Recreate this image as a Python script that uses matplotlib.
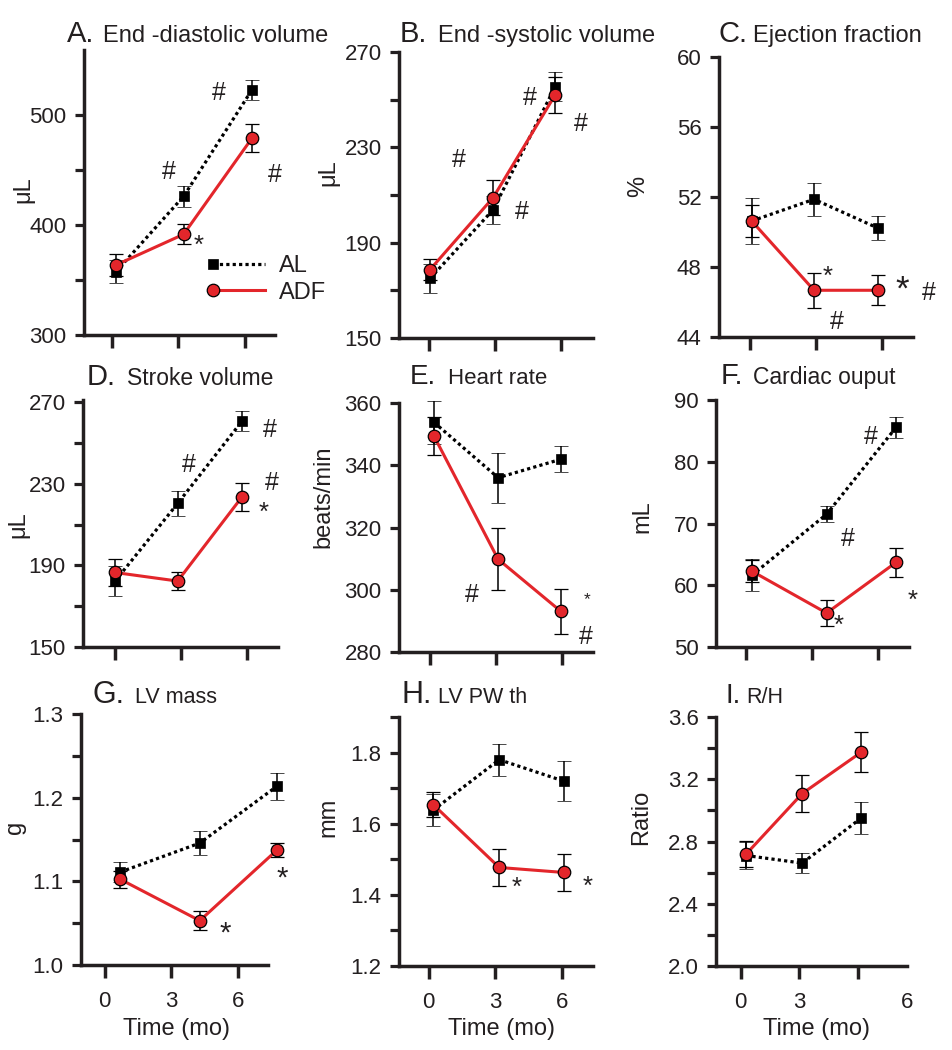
import matplotlib
matplotlib.use('Agg')
import matplotlib.pyplot as plt
from matplotlib.lines import Line2D
from matplotlib.legend_handler import HandlerLine2D

plt.rcParams['font.family'] = ['Liberation Sans', 'DejaVu Sans']
TXT = '#231f20'
RED = '#e3262b'

W, H = 952, 1050

# ---------------- data (time in months, mean, SE) ----------------
t_A = [0.2, 3.25, 6.33]
al_A = [357.5, 426.0, 522.7]
al_A_se = [10.5, 9.5, 9.0]
adf_A = [363.6, 391.5, 478.8]
adf_A_se = [10.0, 9.0, 12.7]

t_B = [0.03, 2.9, 5.72]
al_B = [175.0, 203.8, 255.4]
al_B_se = [6.0, 5.8, 6.0]
adf_B = [178.7, 208.9, 252.0]
adf_B_se = [4.5, 7.3, 7.5]

t_C = [0.06, 2.9, 5.8]
al_C = [50.63, 51.87, 50.23]
al_C_se = [1.3, 0.93, 0.67]
adf_C = [50.63, 46.67, 46.67]
adf_C_se = [0.9, 1.0, 0.85]

t_D = [0.02, 2.85, 5.76]
al_D = [182.3, 220.3, 260.6]
al_D_se = [7.5, 6.0, 5.0]
adf_D = [186.5, 182.3, 223.5]
adf_D_se = [6.8, 4.2, 7.0]

t_E = [0.2, 3.1, 5.93]
al_E = [353.8, 336.0, 341.9]
al_E_se = [7.0, 8.0, 4.2]
adf_E = [349.4, 309.8, 293.1]
adf_E_se = [6.0, 10.0, 7.3]

t_F = [0.25, 3.65, 6.8]
al_F = [61.6, 71.5, 85.55]
al_F_se = [2.6, 1.3, 1.7]
adf_F = [62.3, 55.5, 63.7]
adf_F_se = [1.8, 2.1, 2.3]

t_G = [0.69, 4.29, 7.77]
al_G = [1.111, 1.1457, 1.2136]
al_G_se = [0.012, 0.014, 0.016]
adf_G = [1.1026, 1.053, 1.1373]
adf_G_se = [0.010, 0.011, 0.008]

t_H = [0.2, 3.18, 6.08]
al_H = [1.638, 1.78, 1.72]
al_H_se = [0.045, 0.045, 0.057]
adf_H = [1.654, 1.477, 1.463]
adf_H_se = [0.035, 0.052, 0.053]

t_I = [0.28, 3.15, 6.17]
al_I = [2.71, 2.661, 2.951]
al_I_se = [0.085, 0.065, 0.10]
adf_I = [2.719, 3.108, 3.374]
adf_I_se = [0.085, 0.12, 0.13]

x_ticks = [0, 3, 6]
x_tick_labels = ['0', '3', '6']
series_labels = ['AL', 'ADF']

panels = {
    'A': (t_A, al_A, al_A_se, adf_A, adf_A_se),
    'B': (t_B, al_B, al_B_se, adf_B, adf_B_se),
    'C': (t_C, al_C, al_C_se, adf_C, adf_C_se),
    'D': (t_D, al_D, al_D_se, adf_D, adf_D_se),
    'E': (t_E, al_E, al_E_se, adf_E, adf_E_se),
    'F': (t_F, al_F, al_F_se, adf_F, adf_F_se),
    'G': (t_G, al_G, al_G_se, adf_G, adf_G_se),
    'H': (t_H, al_H, al_H_se, adf_H, adf_H_se),
    'I': (t_I, al_I, al_I_se, adf_I, adf_I_se),
}

titles = {
    'A': 'End -diastolic volume', 'B': 'End -systolic volume', 'C': 'Ejection fraction',
    'D': 'Stroke volume', 'E': 'Heart rate', 'F': 'Cardiac ouput',
    'G': 'LV mass', 'H': 'LV PW th', 'I': 'R/H',
}
ylabels = {'A': 'μL', 'B': 'μL', 'C': '%', 'D': 'μL', 'E': 'beats/min', 'F': 'mL',
           'G': 'g', 'H': 'mm', 'I': 'Ratio'}
y_major = {
    'A': [300, 400, 500], 'B': [150, 190, 230, 270], 'C': [44, 48, 52, 56, 60],
    'D': [150, 190, 230, 270], 'E': [280, 300, 320, 340, 360], 'F': [50, 60, 70, 80, 90],
    'G': [1.0, 1.1, 1.2, 1.3], 'H': [1.2, 1.4, 1.6, 1.8], 'I': [2.0, 2.4, 2.8, 3.2, 3.6],
}
y_minor = {
    'A': [350, 450], 'B': [170, 210, 250], 'C': [], 'D': [170, 210, 250], 'E': [], 'F': [],
    'G': [1.05, 1.15, 1.25], 'H': [1.3, 1.5, 1.7, 1.9], 'I': [2.2, 2.6, 3.0, 3.4],
}
y_fmt = {'G': '{:.1f}', 'H': '{:.1f}', 'I': '{:.1f}'}

# ---------------- layout (pixels) ----------------
# box: left, right, top, bottom
layout = {
    'A': dict(box=(84, 275, 50, 335), xlim=(-1.24, 7.37), ylim=(300, 559),
              ylab=(23, 190), title=(67, 103, 42)),
    'B': dict(box=(399, 593, 52, 338), xlim=(-1.38, 7.44), ylim=(150, 270),
              ylab=(328, 173), title=(400, 438, 42)),
    'C': dict(box=(719, 913, 57, 337), xlim=(-1.43, 7.41), ylim=(44, 60),
              ylab=(638, 186), title=(719, 753, 42)),
    'D': dict(box=(83, 278, 400, 647), xlim=(-1.43, 7.39), ylim=(150, 271),
              ylab=(18, 525), title=(87, 127, 385)),
    'E': dict(box=(399, 593, 403, 652), xlim=(-1.38, 7.39), ylim=(280, 360),
              ylab=(323, 497), title=(410, 448, 384)),
    'F': dict(box=(716, 909, 400, 647), xlim=(-1.37, 7.39), ylim=(50, 90),
              ylab=(642, 517), title=(721, 753, 384)),
    'G': dict(box=(81, 268, 714, 965), xlim=(-1.07, 7.37), ylim=(1.0, 1.3),
              ylab=(15, 827), title=(93, 135, 703)),
    'H': dict(box=(399, 593, 717, 966), xlim=(-1.34, 7.41), ylim=(1.2, 1.9),
              ylab=(328, 817), title=(402, 438, 703)),
    'I': dict(box=(716, 907, 717, 966), xlim=(-1.26, 7.39), ylim=(2.0, 3.6),
              ylab=(641, 817), title=(726, 746, 703)),
}
title_fs = {'A': (21, 17), 'B': (21, 17), 'C': (21, 17), 'D': (21, 16.5),
            'E': (20, 16), 'F': (21, 16.5), 'G': (22, 15.5), 'H': (22, 15.5), 'I': (20, 15.5)}

# significance marks: (text, x_px, y_px, fontsize)
marks = [
    ('#', 219, 93, 18), ('#', 169, 172, 18), ('#', 275, 175, 18), ('*', 199, 241, 15),
    ('#', 459, 160, 18), ('#', 530, 98, 18), ('#', 581, 124, 18), ('#', 522, 212, 18),
    ('*', 828, 272, 15), ('#', 837, 322, 18), ('*', 902, 284, 20), ('#', 929, 293, 18),
    ('#', 270, 430, 18), ('#', 189, 465, 18), ('#', 272, 483, 18), ('*', 264, 508, 15),
    ('#', 472, 595, 18), ('*', 587, 596, 10), ('#', 586, 637, 18),
    ('#', 871, 437, 18), ('#', 848, 539, 18), ('*', 839, 621, 15), ('*', 913, 596, 15),
    ('*', 225, 929, 17), ('*', 282, 874, 17),
    ('*', 517, 883, 15), ('*', 588, 882, 15),
]


class LeftMarker(HandlerLine2D):
    def create_artists(self, legend, orig_handle, xdescent, ydescent, width, height,
                       fontsize, trans):
        arts = super().create_artists(legend, orig_handle, xdescent, ydescent, width,
                                      height, fontsize, trans)
        for a in arts:
            if isinstance(a, Line2D) and a.get_marker() not in (None, 'None', ''):
                a.set_markevery([0])
        return arts


fig = plt.figure(figsize=(W / 100, H / 100), dpi=100)

al_style = dict(color='black', ls=(0, (1, 1)), lw=2.3, marker='s', ms=7,
                mfc='black', mec='black', mew=0.5)
adf_style = dict(color=RED, ls='-', lw=2.2, marker='o', ms=9, mfc=RED,
                 mec='black', mew=0.9)
err_kw = dict(ecolor='black', elinewidth=1.1, capsize=5, capthick=1.1)

for key in 'ABCDEFGHI':
    L = layout[key]
    l, r, t, b = L['box']
    ax = fig.add_axes([l / W, 1 - b / H, (r - l) / W, (b - t) / H])
    tt, al, al_se, adf, adf_se = panels[key]

    c1 = ax.errorbar(tt, al, yerr=al_se, zorder=3, **al_style, **err_kw)
    c2 = ax.errorbar(tt, adf, yerr=adf_se, zorder=4, **adf_style, **err_kw)
    for c in (c1, c2):
        for art in c.get_children():
            art.set_clip_on(False)

    ax.set_xlim(*L['xlim'])
    ax.set_ylim(*L['ylim'])
    for s in ('top', 'right'):
        ax.spines[s].set_visible(False)
    for s in ('left', 'bottom'):
        ax.spines[s].set_linewidth(2.5)
        ax.spines[s].set_color(TXT)

    fmt = y_fmt.get(key, '{:.0f}')
    ax.set_yticks(y_major[key], [fmt.format(v) for v in y_major[key]])
    ax.set_yticks(y_minor[key], minor=True)
    ax.tick_params(axis='y', which='both', direction='out', length=6.5, width=2.3,
                   color=TXT, labelsize=16, labelcolor=TXT, pad=6)

    bottom_row = key in 'GHI'
    if bottom_row:
        if key == 'I':
            ax.set_xticks(x_ticks, x_tick_labels[:2] + [''])
            # the "6" label sits displaced to the right in the original
            ax.set_xticks([8.51], [x_tick_labels[2]], minor=True)
        else:
            ax.set_xticks(x_ticks, x_tick_labels)
        ax.set_xlabel('Time (mo)', fontsize=17, color=TXT)
        cx = {'G': 176.7, 'H': 501.7, 'I': 816.7}[key]
        ax.xaxis.set_label_coords((cx - l) / (r - l), (b - 1029) / (b - t))
        ax.xaxis.label.set_verticalalignment('center')
    else:
        ax.set_xticks(x_ticks, [''] * 3)
    ax.tick_params(axis='x', which='major', direction='out', length=9.5, width=2.5,
                   color=TXT, labelsize=16, labelcolor=TXT, pad=9)
    ax.tick_params(axis='x', which='minor', length=0, labelsize=16,
                   labelcolor=TXT, pad=9 + 9.5)

    ax.set_ylabel(ylabels[key], fontsize=17, color=TXT)
    yx, yy = L['ylab']
    ax.yaxis.set_label_coords((yx - l) / (r - l), (b - yy) / (b - t))
    ax.yaxis.label.set_verticalalignment('center')

    # panel title
    lx, rx, by = L['title']
    fs1, fs2 = title_fs[key]
    fig.text(lx / W, 1 - by / H, key + '.', fontsize=fs1, color=TXT,
             ha='left', va='baseline')
    fig.text(rx / W, 1 - by / H, titles[key], fontsize=fs2, color=TXT,
             ha='left', va='baseline')

    if key == 'A':
        h1 = Line2D([], [], **al_style)
        h2 = Line2D([], [], **adf_style)
        ax.legend([h1, h2], series_labels, handler_map={Line2D: LeftMarker()},
                  loc='upper left', bbox_to_anchor=((213 - l) / (r - l), (b - 255) / (b - t)),
                  frameon=False, numpoints=1, handlelength=2.2, handletextpad=0.6,
                  borderpad=0, borderaxespad=0, labelspacing=0.2, fontsize=17,
                  labelcolor=TXT)

for txt, x, y, fs in marks:
    if txt == '*':
        fig.text(x / W, 1 - (y + 0.55 * fs * 1.39) / H, txt, fontsize=fs * 1.25, color=TXT,
                 ha='center', va='baseline')
    else:
        fig.text(x / W, 1 - y / H, txt, fontsize=fs, color=TXT, ha='center', va='center')

fig.savefig('out.png', dpi=100)
